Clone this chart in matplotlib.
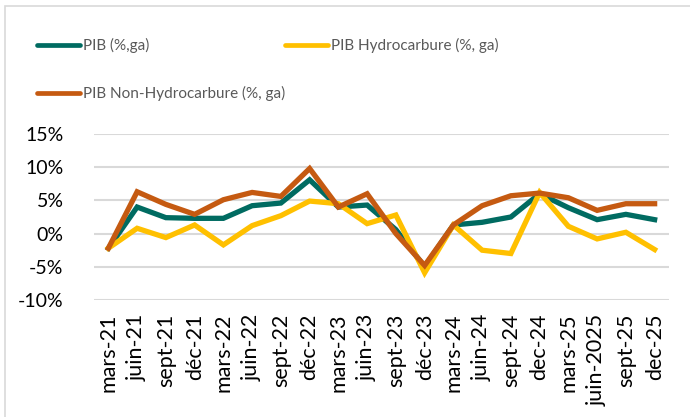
import matplotlib.pyplot as plt
from matplotlib.lines import Line2D
from matplotlib.patches import Rectangle

plt.rcParams['font.family'] = ['Lato', 'DejaVu Sans']

periods = ["mars-21", "juin-21", "sept-21", "déc-21", "mars-22", "juin-22", "sept-22",
           "déc-22", "mars-23", "juin-23", "sept-23", "déc-23", "mars-24", "juin-24",
           "sept-24", "dec-24", "mars-25", "juin-2025", "sept-25", "dec-25"]

pib = [-2.2, 4.0, 2.4, 2.3, 2.3, 4.2, 4.6, 8.1, 4.0, 4.3, 0.6, -5.0,
       1.3, 1.7, 2.5, 6.0, 3.9, 2.1, 2.9, 2.1]
pib_hydro = [-2.2, 0.8, -0.6, 1.3, -1.7, 1.2, 2.7, 4.9, 4.5, 1.5, 2.8, -5.9,
             1.3, -2.5, -3.0, 6.2, 1.1, -0.8, 0.2, -2.4]
pib_non_hydro = [-2.2, 6.3, 4.4, 2.9, 5.1, 6.2, 5.6, 9.8, 4.0, 6.0, 0.0, -4.8,
                 1.3, 4.2, 5.7, 6.1, 5.4, 3.5, 4.5, 4.5]

labels = ["PIB (%,ga)", "PIB Hydrocarbure (%, ga)", "PIB Non-Hydrocarbure (%, ga)"]
colors = ["#006B61", "#FFC000", "#C55A11"]
yticks = [-10, -5, 0, 5, 10, 15]

W, H = 690, 417
fig = plt.figure(figsize=(W / 100, H / 100), dpi=100)
ax = fig.add_axes([94 / W, 1 - 300 / H, 575 / W, 166 / H])

x = list(range(len(periods)))
for series, col in zip([pib, pib_hydro, pib_non_hydro], colors):
    ax.plot(x, series, color=col, lw=3.8, solid_joinstyle="miter", zorder=3)

ax.set_xlim(-0.5, len(periods) - 0.5)
ax.set_ylim(-10, 15)
ax.set_yticks(yticks)
ax.set_yticklabels([f"{v}%" for v in yticks])
ax.set_xticks(x)
ax.set_xticklabels(periods, rotation=90, va="top", ha="center")
ax.tick_params(length=0, labelsize=14, colors="#000000")
ax.tick_params(axis="x", labelsize=15.5, pad=10)
ax.tick_params(axis="y", pad=22)
ax.grid(axis="y", color="#D9D9D9", lw=1.5, zorder=0)
for s in ax.spines.values():
    s.set_visible(False)

# legend, drawn by hand to follow the original layout
legend_pos = [(37, 45), (285, 45), (37, 93)]
for (lx, ly), lab, col in zip(legend_pos, labels, colors):
    fig.add_artist(Line2D([lx / W, (lx + 43) / W], [1 - ly / H, 1 - ly / H],
                          color=col, lw=3.4, solid_capstyle="round"))
    fig.text((lx + 46) / W, 1 - ly / H, lab, fontsize=11, color="#595959",
             va="center", ha="left")

# outer frame of the chart area
fig.add_artist(Rectangle((5 / W, -0.1), 1.2, 1.1 - 6 / H, transform=fig.transFigure,
                         fill=False, edgecolor="#D9D9D9", lw=1.2))

fig.savefig("out.png", dpi=100)
